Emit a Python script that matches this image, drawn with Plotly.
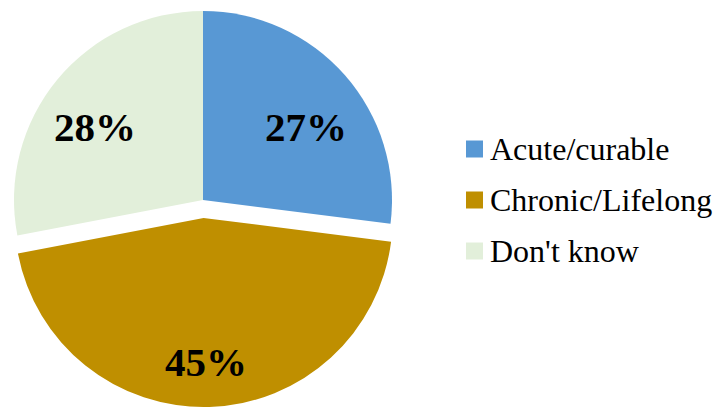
import math
import plotly.graph_objects as go

# Survey answers and their shares (%)
labels = ["Acute/curable", "Chronic/Lifelong", "Don't know"]
values = [27, 45, 28]
colors = ["#5898d4", "#bf8f00", "#e2efda"]
exploded = "Chronic/Lifelong"

# Label placement inside each slice: fraction of radius, angular nudge (deg)
label_radius = [0.67, 0.76, 0.69]
label_nudge = [6.0, 1.0, -5.6]

W, H = 715, 410
R = 189                 # pie radius, px
CX, CY = 203, 200       # pie centre, px
PULL_PX = 18            # offset of the exploded slice, px

transparent = "rgba(0,0,0,0)"
total = sum(values)


def domain_for(cx, cy, r):
    return dict(
        x=[(cx - r) / W, (cx + r) / W],
        y=[(H - (cy + r)) / H, (H - (cy - r)) / H],
    )


def mid_angle(i):
    """Bisector of slice i, radians clockwise from 12 o'clock."""
    start = sum(values[:i])
    return (start + values[i] / 2) / total * 2 * math.pi


common = dict(
    labels=labels,
    values=values,
    sort=False,
    direction="clockwise",
    rotation=0,
    textinfo="none",
    hoverinfo="label+percent",
    showlegend=False,
)

fig = go.Figure()

# Slices that stay in place
fig.add_trace(go.Pie(
    **common,
    marker=dict(colors=[c if l != exploded else transparent
                        for l, c in zip(labels, colors)],
                line=dict(width=0)),
    domain=domain_for(CX, CY, R),
))

# Exploded slice, moved outward along its bisector
k = labels.index(exploded)
a = mid_angle(k)
dx, dy = math.sin(a) * PULL_PX, -math.cos(a) * PULL_PX
fig.add_trace(go.Pie(
    **common,
    marker=dict(colors=[c if l == exploded else transparent
                        for l, c in zip(labels, colors)],
                line=dict(width=0)),
    domain=domain_for(CX + dx, CY + dy, R),
))

# Percentage labels
for i, v in enumerate(values):
    cx, cy = (CX + dx, CY + dy) if labels[i] == exploded else (CX, CY)
    ang = mid_angle(i) + math.radians(label_nudge[i])
    rr = label_radius[i] * R
    px, py = cx + math.sin(ang) * rr, cy - math.cos(ang) * rr
    fig.add_annotation(
        text=f"{round(v / total * 100)}%", xref="paper", yref="paper",
        x=px / W, y=(H - py) / H, xanchor="center", yanchor="middle",
        showarrow=False,
        font=dict(family="Liberation Serif", size=41, color="black",
                  weight="bold"),
    )

# Legend: colour swatches with labels
LEG_X, LEG_Y0, LEG_STEP, SW = 466, 149, 51, 17
for i, (lab, col) in enumerate(zip(labels, colors)):
    yc = LEG_Y0 + i * LEG_STEP
    fig.add_shape(
        type="rect", xref="paper", yref="paper",
        x0=LEG_X / W, x1=(LEG_X + SW) / W,
        y0=(H - yc - SW / 2) / H, y1=(H - yc + SW / 2) / H,
        fillcolor=col, line=dict(width=0),
    )
    fig.add_annotation(
        text=lab, xref="paper", yref="paper",
        x=(LEG_X + SW + 5) / W, y=(H - yc) / H,
        xanchor="left", yanchor="middle", showarrow=False,
        font=dict(family="Liberation Serif", size=32, color="black"),
    )

fig.update_layout(
    width=W, height=H,
    margin=dict(l=0, r=0, t=0, b=0),
    paper_bgcolor="white",
    plot_bgcolor="white",
)

fig.write_html("out.html")
